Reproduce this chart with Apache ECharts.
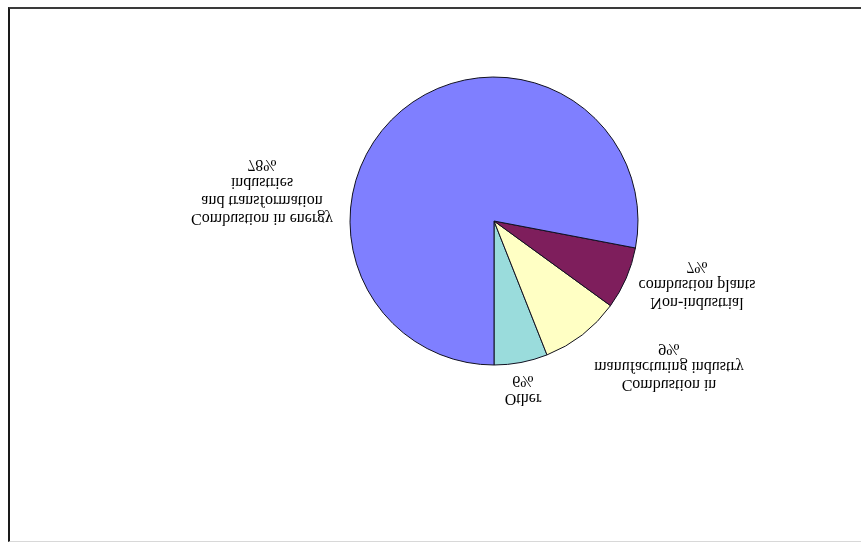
<!DOCTYPE html>
<html>
<head>
<meta charset="utf-8">
<title>Emissions by source</title>
<script src="https://cdn.jsdelivr.net/npm/echarts@6/dist/echarts.min.js"></script>
<style>
    html, body { margin: 0; padding: 0; background: #fff; }
    /* the reference picture is mirrored top-to-bottom, so the whole chart is flipped */
    #wrap { position: relative; width: 861px; height: 543px; overflow: hidden; transform: scaleY(-1); }
    #frame { position: absolute; left: 8px; top: 1px; width: 870px; height: 532px;
             border-left: 2px solid #1a1a1a; border-bottom: 2px solid #3a3a3a; border-top: 1px solid #d8d8d8; }
    #chart { position: absolute; left: 0; top: 0; width: 861px; height: 543px; }
</style>
</head>
<body>
<div id="wrap">
    <div id="frame"></div>
    <div id="chart"></div>
</div>
<script>
// slice names and shares (%)
var categories = [
    "Other",
    "Combustion in\nmanufacturing industry",
    "Non-industrial\ncombustion plants",
    "Combustion in energy\nand transformation\nindustries"
];
var values = [6, 9, 7, 78];

var colors = ["#9adcdc", "#ffffc4", "#7e1e5c", "#7f7fff"];
// label centres (chart pixels, before the flip)
var labelPos = [[523, 154], [669, 177], [697, 259], [262, 352]];

var data = [];
for (var i = 0; i < categories.length; i++) {
    data.push({ name: categories[i], value: values[i], itemStyle: { color: colors[i] } });
}

var myChart = echarts.init(document.getElementById('chart'));
var option = {
    animation: false,
    series: [{
        type: 'pie',
        center: [494, 322],
        radius: 144,
        startAngle: 90,
        clockwise: true,
        data: data,
        itemStyle: { borderColor: '#101020', borderWidth: 1 },
        label: {
            show: true,
            position: 'outside',
            color: '#000',
            fontFamily: 'Liberation Serif',
            fontSize: 16,
            lineHeight: 18,
            align: 'center',
            formatter: function (p) {
                return p.name + "\n" + Math.round(p.percent) + "%";
            }
        },
        labelLine: { show: false },
        labelLayout: function (p) {
            var pos = labelPos[p.dataIndex];
            return { x: pos[0], y: pos[1], align: 'center', verticalAlign: 'middle' };
        },
        emphasis: { disabled: true }
    }]
};
myChart.setOption(option);
</script>
</body>
</html>
